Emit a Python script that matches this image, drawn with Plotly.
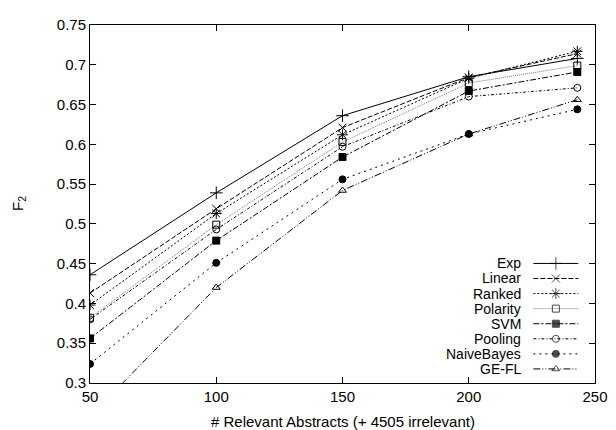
import plotly.graph_objects as go

# ---- data ----
x_vals = [50, 100, 150, 200, 243]
series_names = ["Exp", "Linear", "Ranked", "Polarity", "SVM", "Pooling", "NaiveBayes", "GE-FL"]
exp_vals = [0.436, 0.539, 0.636, 0.685, 0.708]
linear_vals = [0.413, 0.519, 0.621, 0.684, 0.714]
ranked_vals = [0.398, 0.513, 0.612, 0.683, 0.717]
polarity_vals = [0.382, 0.499, 0.603, 0.677, 0.699]
svm_vals = [0.356, 0.479, 0.584, 0.667, 0.691]
pooling_vals = [0.380, 0.493, 0.597, 0.660, 0.671]
naivebayes_vals = [0.324, 0.451, 0.556, 0.613, 0.644]
gefl_vals = [0.258, 0.420, 0.542, 0.613, 0.656]
y_ticks = [0.3, 0.35, 0.4, 0.45, 0.5, 0.55, 0.6, 0.65, 0.7, 0.75]
x_ticks = [50, 100, 150, 200, 250]

all_vals = [exp_vals, linear_vals, ranked_vals, polarity_vals, svm_vals,
            pooling_vals, naivebayes_vals, gefl_vals]

# ---- styles ----
symbols = ["cross-thin-open", "x-thin-open", "asterisk-open", "square-open",
           "square", "circle-open", "circle", "triangle-up-open"]
dashes = ["solid", "5px,2px", "2px,2px", "1px,1px", "6px,2px,2px,2px",
          "3px,2px,1px,2px", "2px,4px", "7px,2px,1px,2px,1px,2px"]
line_colors = ["black", "black", "black", "#777777", "black", "black", "black", "black"]
sizes = [9, 8, 9, 7, 7, 7, 7, 7]

FONT = "Liberation Sans, Arial, Helvetica, sans-serif"

fig = go.Figure()
for name, vals, sym, dash, lc, sz in zip(series_names, all_vals, symbols, dashes, line_colors, sizes):
    fig.add_trace(go.Scatter(
        x=x_vals, y=vals, mode="lines+markers", name=name, showlegend=False,
        cliponaxis=True,
        line=dict(color=lc, width=1, dash=dash),
        marker=dict(symbol=sym, size=sz, color="black",
                    line=dict(color="black", width=1)),
    ))

# ---- custom legend (text right-aligned, sample on the right) ----
leg_top = 0.334
leg_step = 0.0421
txt_right = 0.858
samp_x0, samp_x1 = 0.878, 0.967
for i, (name, sym, dash, lc, sz) in enumerate(zip(series_names, symbols, dashes, line_colors, sizes)):
    yy = leg_top - i * leg_step
    fig.add_annotation(x=txt_right, y=yy, xref="paper", yref="paper", text=name,
                       showarrow=False, xanchor="right", yanchor="middle",
                       font=dict(family=FONT, size=14, color="black"))
    fig.add_trace(go.Scatter(
        x=[samp_x0, (samp_x0 + samp_x1) / 2, samp_x1], y=[yy, yy, yy],
        xaxis="x2", yaxis="y2", mode="lines+markers", showlegend=False,
        hoverinfo="skip",
        line=dict(color=lc, width=1, dash=dash),
        marker=dict(symbol=sym, size=[0, sz, 0], color="black",
                    line=dict(color="black", width=1)),
    ))

# axis titles as annotations for precise placement
fig.add_annotation(x=0.5, y=0, xref="paper", yref="paper",
                   text="# Relevant Abstracts (+ 4505 irrelevant)", showarrow=False,
                   xanchor="center", yanchor="middle", yshift=-38,
                   font=dict(family=FONT, size=15, color="black"))
fig.add_annotation(x=0, y=0.5, xref="paper", yref="paper",
                   text="F<sub>2</sub>", showarrow=False, textangle=-90,
                   xanchor="center", yanchor="middle", xshift=-72,
                   font=dict(family=FONT, size=15, color="black"))

axis_common = dict(
    showline=True, linecolor="black", linewidth=1, mirror="allticks",
    ticks="inside", ticklen=6, tickcolor="black", tickwidth=1,
    showgrid=False, zeroline=False, ticklabeloverflow="allow",
    tickfont=dict(family=FONT, size=15, color="black"),
)

# page body has an 8px margin; size the figure so the plot area lands where the reference has it
fig.update_layout(
    width=608, height=422,
    margin=dict(l=82, r=18, t=8, b=47),
    paper_bgcolor="white", plot_bgcolor="white",
    font=dict(family=FONT, size=15, color="black"),
    xaxis=dict(range=[50, 250], tickvals=x_ticks, ticktext=[str(t) for t in x_ticks],
               **axis_common),
    yaxis=dict(range=[0.3, 0.75], tickvals=y_ticks,
               ticktext=[("%g" % t) for t in y_ticks],
               **axis_common),
    xaxis2=dict(range=[0, 1], overlaying="x", visible=False, fixedrange=True),
    yaxis2=dict(range=[0, 1], overlaying="y", visible=False, fixedrange=True),
)

fig.write_html("out.html")
